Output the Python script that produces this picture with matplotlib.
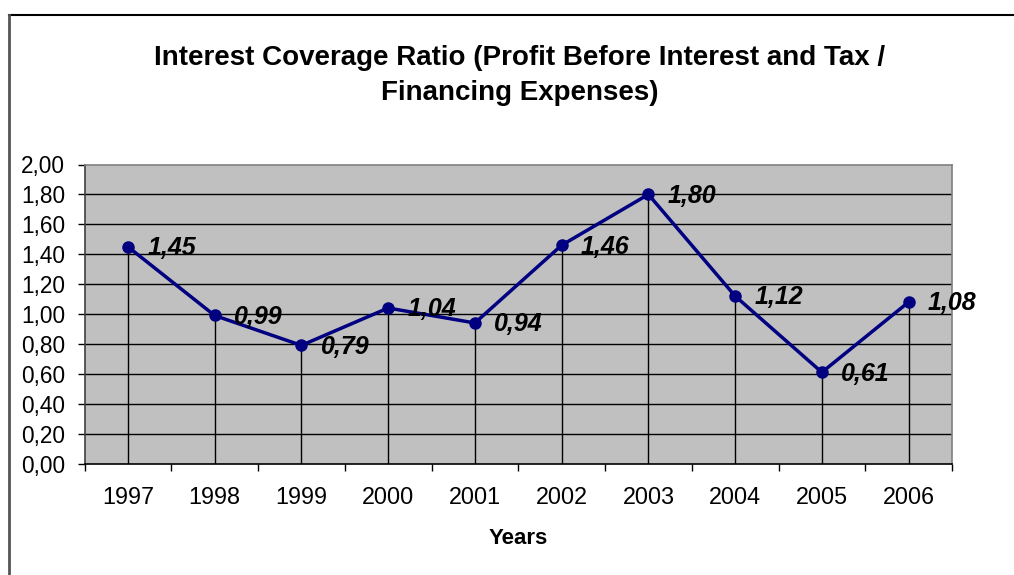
import numpy as np
import matplotlib.pyplot as plt
from matplotlib.lines import Line2D

plt.rcParams['font.family'] = ['Liberation Sans', 'DejaVu Sans']

years = ['1997', '1998', '1999', '2000', '2001', '2002', '2003', '2004', '2005', '2006']
ratio = [1.45, 0.99, 0.79, 1.04, 0.94, 1.46, 1.80, 1.12, 0.61, 1.08]
y_ticks = [0.0, 0.2, 0.4, 0.6, 0.8, 1.0, 1.2, 1.4, 1.6, 1.8, 2.0]

W, H = 1014, 575
fig = plt.figure(figsize=(W / 100, H / 100), dpi=100)

# plot area placed in pixel terms
left, right, top, bottom = 84.5, 952, 164.5, 463.5
ax = fig.add_axes([left / W, 1 - bottom / H, (right - left) / W, (bottom - top) / H])
ax.set_facecolor('#c0c0c0')

x = np.arange(len(years))
ax.set_xlim(-0.5, len(years) - 0.5)
ax.set_ylim(0, 2.0)

# horizontal gridlines
for v in y_ticks[1:-1]:
    ax.axhline(v, color='black', lw=1, zorder=1)

# drop lines from each point down to the axis
ax.vlines(x, 0, ratio, color='black', lw=1, zorder=2)

ax.plot(x, ratio, color='#000080', lw=2.5, marker='o', markersize=8, zorder=3)

for xi, v in zip(x, ratio):
    ax.annotate(f'{v:.2f}'.replace('.', ','), (xi, v), xytext=(14, -1),
                textcoords='offset points', ha='left', va='center',
                fontsize=18, fontweight='bold', fontstyle='italic', zorder=4)

ax.set_yticks(y_ticks)
ax.set_yticklabels([f'{v:.2f}'.replace('.', ',') for v in y_ticks], fontsize=16.3)
ax.tick_params(axis='y', length=5, width=1, pad=9, direction='out')

ax.set_xticks(np.arange(-0.5, len(years), 1.0))
ax.set_xticklabels([])
ax.tick_params(axis='x', which='major', length=5, width=1, direction='out')
ax.set_xticks(x, minor=True)
ax.set_xticklabels(years, minor=True, fontsize=16.8)
ax.tick_params(axis='x', which='minor', length=0, pad=16)

for s in ['top', 'right']:
    ax.spines[s].set_color('#808080')
ax.spines['left'].set_color('#404040')
ax.spines['bottom'].set_color('black')
for s in ax.spines.values():
    s.set_linewidth(1.2)

fig.text(520 / W, 1 - 75.5 / H,
         'Interest Coverage Ratio (Profit Before Interest and Tax /\nFinancing Expenses)',
         ha='center', va='center', fontsize=20, fontweight='bold', linespacing=1.45)
fig.text(518 / W, 1 - 538 / H, 'Years', ha='center', va='center',
         fontsize=16, fontweight='bold')

# chart frame: top and left edges
fig.add_artist(Line2D([9 / W, 1.0], [1 - 15 / H, 1 - 15 / H], color='black', lw=1.5))
fig.add_artist(Line2D([9 / W, 9 / W], [1 - 15 / H, 0.0], color='#555555', lw=2))

fig.savefig('out.png', dpi=100, facecolor='white')
